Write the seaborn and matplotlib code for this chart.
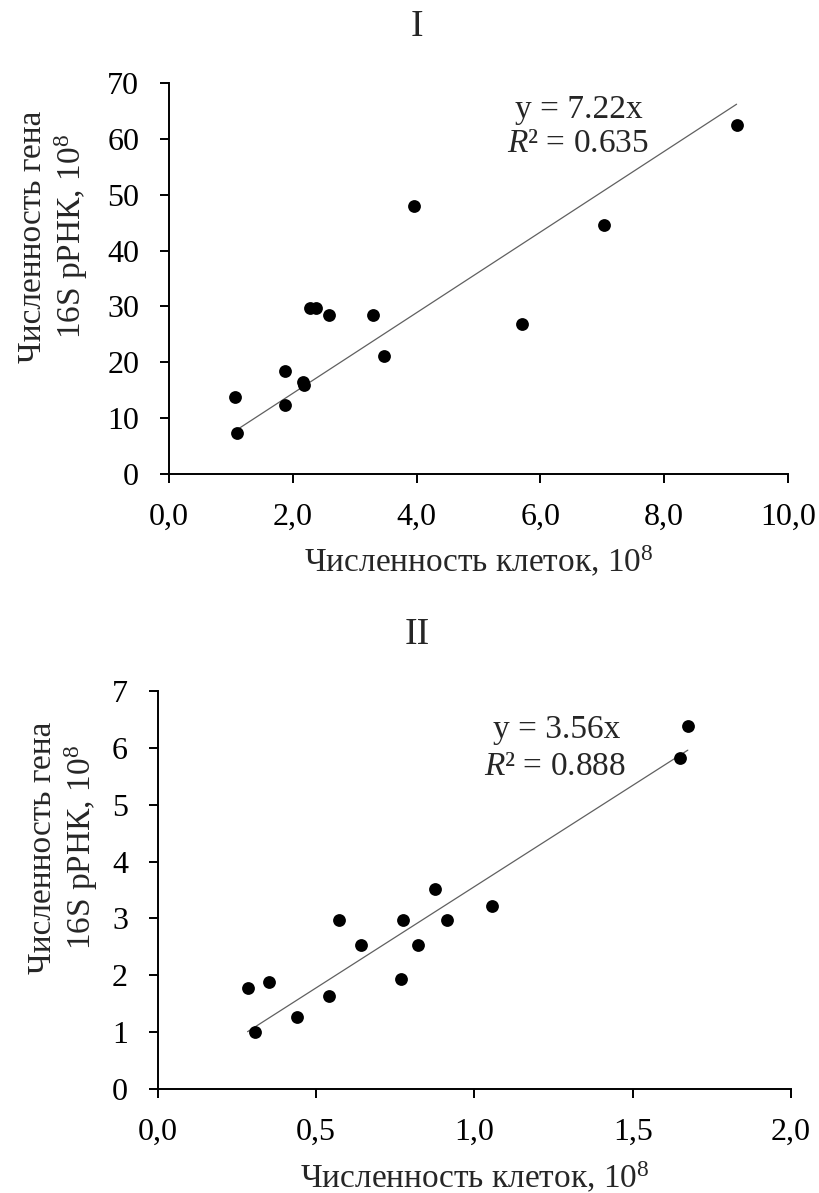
import numpy as np
import pandas as pd
import matplotlib
matplotlib.use("Agg")
import matplotlib.pyplot as plt
from matplotlib.ticker import FuncFormatter
import seaborn as sns

# Panel I: cell counts vs 16S rRNA gene copies (x10^8)
cells_1 = [1.06, 1.09, 1.88, 1.88, 2.16, 2.18, 2.27, 2.37, 2.58, 3.29, 3.47, 3.95, 5.70, 7.03, 9.17]
genes_1 = [13.8, 7.3, 18.5, 12.3, 16.4, 15.9, 29.8, 29.8, 28.4, 28.4, 21.2, 47.9, 26.9, 44.6, 62.5]
slope_1 = 7.22
r2_1 = 0.635

# Panel II
cells_2 = [0.283, 0.306, 0.352, 0.438, 0.540, 0.572, 0.643, 0.767, 0.774, 0.820, 0.876, 0.914, 1.055, 1.648, 1.674]
genes_2 = [1.77, 1.01, 1.89, 1.27, 1.64, 2.97, 2.53, 1.93, 2.97, 2.53, 3.52, 2.97, 3.21, 5.83, 6.39]
slope_2 = 3.56
r2_2 = 0.888

titles = ["I", "II"]
x_label = "Численность клеток, 10$^{8}$"
y_label = "Численность гена\n16S рРНК, 10$^{8}$"

sns.set_theme(style="ticks")
plt.rcParams["font.family"] = ["Liberation Serif", "DejaVu Serif"]
plt.rcParams["mathtext.fontset"] = "custom"
plt.rcParams["mathtext.rm"] = "Liberation Serif"
plt.rcParams["mathtext.it"] = "Liberation Serif:italic"

FS_TICK = 23
FS_TEXT = 24
FS_TITLE = 27

fig = plt.figure(figsize=(8.19, 11.93), dpi=100)
ax1 = fig.add_axes([0.2064, 0.6027, 0.9621 - 0.2064, 0.9304 - 0.6027])
ax2 = fig.add_axes([0.1929, 0.0872, 0.9658 - 0.1929, 0.4208 - 0.0872])

panels = [
    dict(ax=ax1, xs=cells_1, ys=genes_1, k=slope_1, r2=r2_1, xlim=(0, 10), xt=np.arange(0, 10.1, 2),
         ylim=(0, 70), yt=np.arange(0, 71, 10), eq=(6.62, 65.3), rq=(6.61, 59.1),
         title=titles[0], title_y=1 - 27 / 1193, ylab_x=-0.128, xlab_y=-0.181),
    dict(ax=ax2, xs=cells_2, ys=genes_2, k=slope_2, r2=r2_2, xlim=(0, 2), xt=np.arange(0, 2.01, 0.5),
         ylim=(0, 7), yt=np.arange(0, 7.1, 1), eq=(1.261, 6.31), rq=(1.254, 5.66),
         title=titles[1], title_y=1 - 635 / 1193, ylab_x=-0.092, xlab_y=-0.178),
]

for p in panels:
    ax = p["ax"]
    df = pd.DataFrame({"x": p["xs"], "y": p["ys"]})
    # linear trend through the origin, spanning the observed x range
    tx = np.array([df["x"].min(), df["x"].max()])
    trend = pd.DataFrame({"x": tx, "y": p["k"] * tx})
    sns.lineplot(data=trend, x="x", y="y", ax=ax, color="#606060", linewidth=0.9)
    sns.scatterplot(data=df, x="x", y="y", ax=ax, color="black", s=85, edgecolor="black", linewidth=0, zorder=3)

    ax.set_xlim(*p["xlim"])
    ax.set_ylim(*p["ylim"])
    ax.set_xticks(p["xt"])
    ax.set_yticks(p["yt"])
    ax.xaxis.set_major_formatter(FuncFormatter(lambda v, pos: f"{v:.1f}".replace(".", ",")))
    ax.yaxis.set_major_formatter(FuncFormatter(lambda v, pos: f"{v:.0f}"))
    sns.despine(ax=ax)
    for s in ("left", "bottom"):
        ax.spines[s].set_linewidth(1.4)
        ax.spines[s].set_color("black")
    ax.tick_params(direction="out", length=6.5, width=1.4, colors="black", labelsize=FS_TICK)
    ax.tick_params(axis="x", pad=14)
    ax.tick_params(axis="y", pad=15)

    ax.set_xlabel(x_label, fontsize=FS_TEXT)
    ax.xaxis.set_label_coords(0.5, p["xlab_y"])
    ax.set_ylabel(y_label, fontsize=FS_TEXT, linespacing=1.15)
    ax.yaxis.set_label_coords(p["ylab_x"], 0.607)

    fig.text(417 / 819, p["title_y"], p["title"], fontsize=FS_TITLE, ha="center", va="center")

    ax.text(*p["eq"], f"y = {p['k']:.2f}x", fontsize=FS_TEXT, ha="center", va="center")
    ax.text(*p["rq"], f"$R$² = {p['r2']:.3f}", fontsize=FS_TEXT, ha="center", va="center")

fig.savefig("out.png", dpi=100)
